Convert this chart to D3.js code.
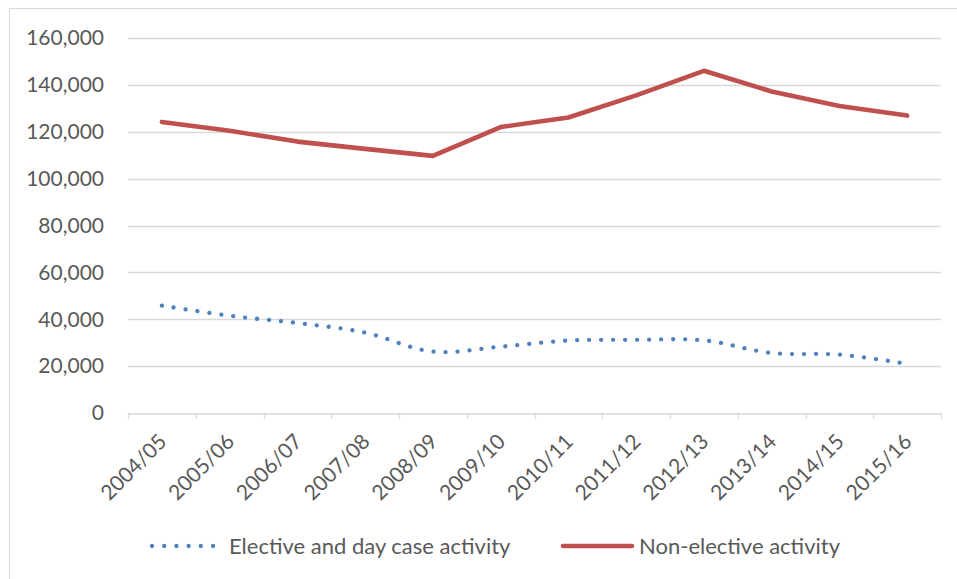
<!DOCTYPE html>
<html>
<head>
<meta charset="utf-8">
<script src="https://cdn.jsdelivr.net/npm/d3@7"></script>
<style>
  body { margin: 0; background: #fff; }
  svg text { font-family: Lato, "Open Sans", sans-serif; fill: #595959; }
</style>
</head>
<body>
<div id="chart"></div>
<script>
const years = ['2004/05', '2005/06', '2006/07', '2007/08', '2008/09', '2009/10',
               '2010/11', '2011/12', '2012/13', '2013/14', '2014/15', '2015/16'];
const elective = [45800, 41500, 38400, 34300, 26200, 28300, 30900, 31200, 31000, 25600, 24900, 21000];
const nonElective = [124200, 120400, 115800, 112700, 109700, 122000, 126100, 135500, 146000, 137200, 131000, 126900];
const yTicks = [0, 20000, 40000, 60000, 80000, 100000, 120000, 140000, 160000];

const W = 957, H = 579;
const plot = { left: 128, right: 941, top: 38, bottom: 413 };

const svg = d3.select('#chart').append('svg')
    .attr('width', W)
    .attr('height', H);

// chart border
svg.append('rect')
    .attr('x', 9.5).attr('y', 8.5)
    .attr('width', W + 10).attr('height', H + 10)
    .attr('fill', 'none')
    .attr('stroke', '#d9d9d9');

const x = d3.scaleBand().domain(years).range([plot.left, plot.right]);
const y = d3.scaleLinear().domain([0, 160000]).range([plot.bottom, plot.top]);
const fmt = d3.format(',');

// gridlines
svg.append('g')
    .selectAll('line')
    .data(yTicks.filter(d => d > 0))
    .join('line')
    .attr('x1', plot.left).attr('x2', plot.right)
    .attr('y1', d => Math.round(y(d)) + 0.5)
    .attr('y2', d => Math.round(y(d)) + 0.5)
    .attr('stroke', '#d9d9d9')
    .attr('stroke-width', 1.3);

// y labels
svg.append('g')
    .selectAll('text')
    .data(yTicks)
    .join('text')
    .attr('x', 104)
    .attr('y', d => y(d))
    .attr('dy', '0.35em')
    .attr('text-anchor', 'end')
    .style('font-size', '21px')
    .text(d => fmt(d));

// x axis
const xAxis = svg.append('g')
    .attr('transform', `translate(0,${Math.round(plot.bottom) + 0.5})`)
    .call(d3.axisBottom(x).tickSize(0).tickFormat(''));
xAxis.select('.domain').attr('stroke', '#d9d9d9').attr('stroke-width', 1.3);

const edges = years.map(d => x(d)).concat([plot.right]);
svg.append('g')
    .selectAll('line')
    .data(edges)
    .join('line')
    .attr('x1', d => Math.round(d) + 0.5).attr('x2', d => Math.round(d) + 0.5)
    .attr('y1', plot.bottom).attr('y2', plot.bottom + 6)
    .attr('stroke', '#d9d9d9')
    .attr('stroke-width', 1.3);

// x labels, rotated
svg.append('g')
    .selectAll('text')
    .data(years)
    .join('text')
    .attr('text-anchor', 'end')
    .attr('transform', d => `translate(${x(d) + x.bandwidth() / 2 + 6},${plot.bottom + 30}) rotate(-45)`)
    .style('font-size', '21px')
    .text(d => d);

const cx = d => x(d) + x.bandwidth() / 2;

// non-elective line
svg.append('path')
    .datum(nonElective)
    .attr('fill', 'none')
    .attr('stroke', '#c0504d')
    .attr('stroke-width', 4.6)
    .attr('stroke-linecap', 'round')
    .attr('stroke-linejoin', 'round')
    .attr('d', d3.line()
        .x((d, i) => cx(years[i]))
        .y(d => y(d)));

// elective line, round dots
svg.append('path')
    .datum(elective)
    .attr('fill', 'none')
    .attr('stroke', '#4f81bd')
    .attr('stroke-width', 4.3)
    .attr('stroke-linecap', 'round')
    .attr('stroke-dasharray', '0.01 12')
    .attr('d', d3.line()
        .curve(d3.curveCatmullRom.alpha(0.5))
        .x((d, i) => cx(years[i]))
        .y(d => y(d)));

// legend
const leg = svg.append('g');
leg.append('line')
    .attr('x1', 152).attr('x2', 214)
    .attr('y1', 546).attr('y2', 546)
    .attr('stroke', '#4f81bd')
    .attr('stroke-width', 4.3)
    .attr('stroke-linecap', 'round')
    .attr('stroke-dasharray', '0.01 12.2');
leg.append('text')
    .attr('x', 229).attr('y', 546).attr('dy', '0.35em')
    .style('font-size', '22px')
    .text('Elective and day case activity');
leg.append('line')
    .attr('x1', 563).attr('x2', 632)
    .attr('y1', 546).attr('y2', 546)
    .attr('stroke', '#c0504d')
    .attr('stroke-width', 4.6)
    .attr('stroke-linecap', 'round');
leg.append('text')
    .attr('x', 639).attr('y', 546).attr('dy', '0.35em')
    .style('font-size', '22px')
    .text('Non-elective activity');
</script>
</body>
</html>
